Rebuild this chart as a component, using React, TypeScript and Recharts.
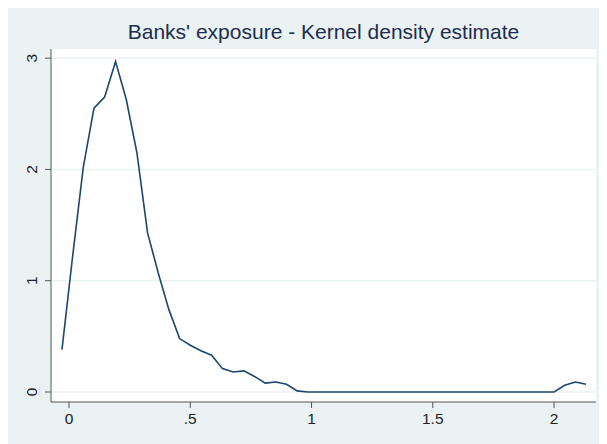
import { LineChart, Line, XAxis, YAxis, CartesianGrid } from "recharts"

// kernel density evaluation points (50 points, as Stata's kdensity gives)
const gridX = [
  -0.029, 0.015, 0.059, 0.103, 0.147, 0.192, 0.236, 0.28, 0.324, 0.368,
  0.412, 0.456, 0.5, 0.544, 0.588, 0.633, 0.677, 0.721, 0.765, 0.809,
  0.853, 0.897, 0.941, 0.985, 1.029, 1.074, 1.118, 1.162, 1.206, 1.25,
  1.294, 1.338, 1.382, 1.426, 1.47, 1.515, 1.559, 1.603, 1.647, 1.691,
  1.735, 1.779, 1.823, 1.867, 1.912, 1.956, 2.0, 2.044, 2.088, 2.132,
]
const density = [
  0.38, 1.22, 2.02, 2.55, 2.65, 2.97, 2.63, 2.15, 1.43, 1.07,
  0.74, 0.48, 0.42, 0.37, 0.33, 0.21, 0.18, 0.19, 0.14, 0.08,
  0.09, 0.07, 0.01, 0, 0, 0, 0, 0, 0, 0,
  0, 0, 0, 0, 0, 0, 0, 0, 0, 0,
  0, 0, 0, 0, 0, 0, 0, 0.06, 0.09, 0.07,
]
const xTicks = [0, 0.5, 1, 1.5, 2]
const yTicks = [0, 1, 2, 3]
const title = "Banks' exposure - Kernel density estimate"

const data = gridX.map((x, i) => ({ x, y: density[i] }))

const fmt = (v: number) => String(v).replace(/^0\./, ".")

function YTick(props: any) {
  const { x, y, payload } = props
  const cx = x - 6
  return (
    <text
      x={cx}
      y={y}
      transform={`rotate(-90 ${cx} ${y})`}
      textAnchor="middle"
      fontSize={15.5}
      fill="#222"
      fontFamily="Liberation Sans, Arial, sans-serif"
    >
      {payload.value}
    </text>
  )
}

export default function App() {
  return (
    <div
      style={{
        position: "relative",
        width: 601,
        height: 440,
        marginTop: -2,
        marginLeft: -2,
        background: "#eaf2f3",
        fontFamily: "Liberation Sans, Arial, sans-serif",
      }}
    >
      <div
        style={{
          position: "absolute",
          left: 45,
          width: 545,
          top: 14,
          textAlign: "center",
          fontSize: 21,
          color: "#1e2d4f",
        }}
      >
        {title}
      </div>
      <LineChart
        width={601}
        height={438}
        data={data}
        margin={{ top: 43, right: 11, left: 10, bottom: 12 }}
      >
        <CartesianGrid
          vertical={false}
          fill="#ffffff"
          stroke="#eaf2f3"
          strokeWidth={1.5}
          horizontalValues={yTicks}
        />
        <XAxis
          dataKey="x"
          type="number"
          domain={[-0.0742, 2.173]}
          allowDataOverflow
          ticks={xTicks}
          tickFormatter={fmt}
          stroke="#555"
          tickSize={6}
          tick={{ fontSize: 15.5, fill: "#222", dy: 3 }}
          height={30}
        />
        <YAxis
          type="number"
          domain={[-0.0898, 3.082]}
          allowDataOverflow
          ticks={yTicks}
          stroke="#555"
          tickSize={6}
          tick={<YTick />}
          width={35}
        />
        <Line
          type="linear"
          dataKey="y"
          stroke="#1a476f"
          strokeWidth={1.6}
          dot={false}
          isAnimationActive={false}
        />
      </LineChart>
    </div>
  )
}
